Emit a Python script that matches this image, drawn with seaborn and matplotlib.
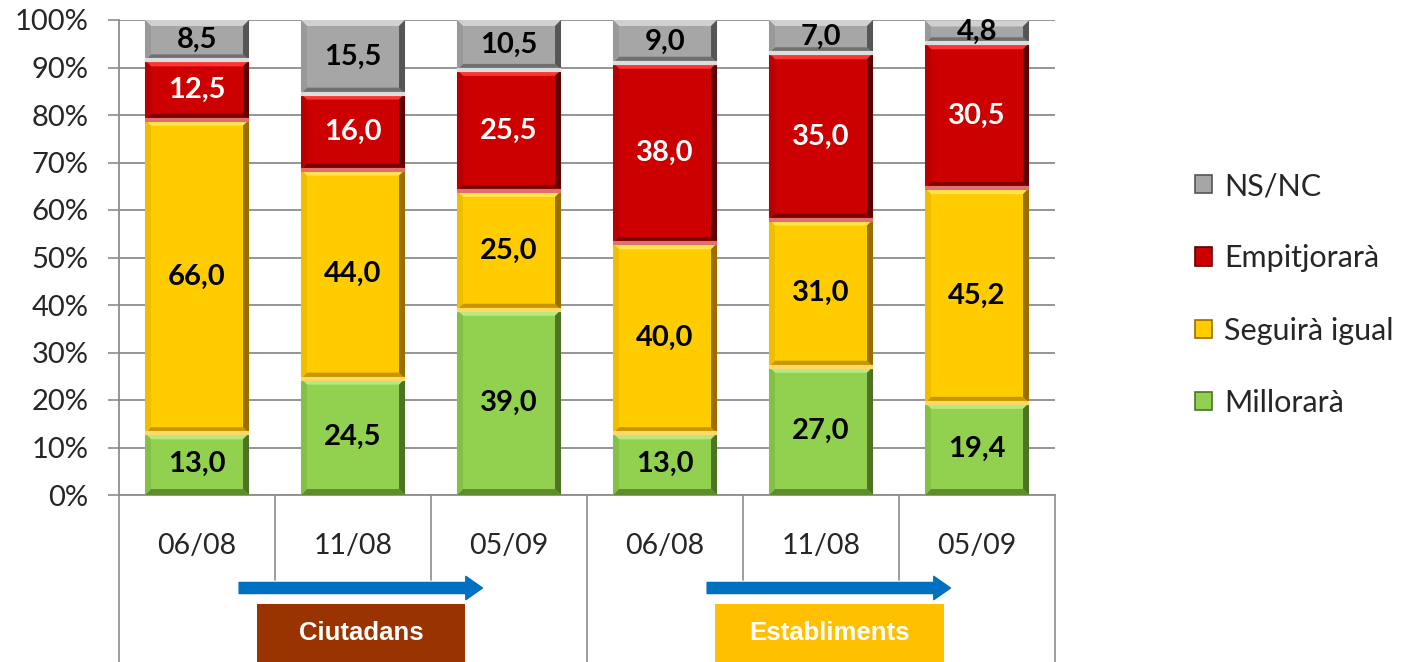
import numpy as np
import pandas as pd
import matplotlib
matplotlib.use("Agg")
import matplotlib.pyplot as plt
import seaborn as sns
from matplotlib.patches import Polygon, Rectangle, Patch
from matplotlib.transforms import blended_transform_factory

# ---------------- data ----------------
periods = ["06/08", "11/08", "05/09", "06/08", "11/08", "05/09"]
groups = ["Ciutadans", "Ciutadans", "Ciutadans", "Establiments", "Establiments", "Establiments"]
millorara = [13.0, 24.5, 39.0, 13.0, 27.0, 19.4]
seguira = [66.0, 44.0, 25.0, 40.0, 31.0, 45.2]
empitjorara = [12.5, 16.0, 25.5, 38.0, 35.0, 30.5]
nsnc = [8.5, 15.5, 10.5, 9.0, 7.0, 4.8]
series_names = ["Millorarà", "Seguirà igual", "Empitjorarà", "NS/NC"]
group_names = ["Ciutadans", "Establiments"]
yticks = [0, 10, 20, 30, 40, 50, 60, 70, 80, 90, 100]

# ---------------- styles ----------------
palette = {
    "Millorarà":     dict(base="#92D050", top="#B8E883", bot="#5E8C2E", left="#84C046", right="#4A7424", sep="#C9EE9E", txt="black"),
    "Seguirà igual": dict(base="#FFCC00", top="#FFE44D", bot="#C89400", left="#F0BE00", right="#9A6E00", sep="#FFD966", txt="black"),
    "Empitjorarà":   dict(base="#CC0000", top="#FF3333", bot="#7A0000", left="#B80000", right="#5C0000", sep="#E07070", txt="white"),
    "NS/NC":         dict(base="#A6A6A6", top="#D0D0D0", bot="#707070", left="#999999", right="#555555", sep="#DCDCDC", txt="black"),
}
group_box_colors = {"Ciutadans": "#993300", "Establiments": "#FFC000"}

slots = [f"{g} {p}" for g, p in zip(groups, periods)]
df = pd.DataFrame({"slot": slots, "group": groups, "period": periods,
                   "Millorarà": millorara, "Seguirà igual": seguira,
                   "Empitjorarà": empitjorara, "NS/NC": nsnc})
for i, s in enumerate(series_names):
    df["cum_" + s] = df[series_names[: i + 1]].sum(axis=1)

sns.set_theme(style="white")
plt.rcParams["font.family"] = ["Lato", "DejaVu Sans"]

fig = plt.figure(figsize=(14.01, 6.62), dpi=100)
ax = fig.add_axes([119 / 1401, 1 - 495 / 662, (1055 - 119) / 1401, 475 / 662])

bar_w = 0.667
# draw cumulative bars, tallest first (classic stacked technique)
for s in reversed(series_names):
    sns.barplot(data=df, x="slot", y="cum_" + s, order=slots, color=palette[s]["base"],
                width=bar_w, saturation=1, linewidth=0, edgecolor="none",
                ax=ax, zorder=3, errorbar=None)

ax.set_xlim(-0.5, len(slots) - 0.5)
ax.set_ylim(0, 100)

# bevel overlays and labels derived from data
bx, by = 6 / 156, 6 / 4.75
for i in range(len(slots)):
    x0, x1 = i - bar_w / 2, i + bar_w / 2
    lower = 0.0
    for k, s in enumerate(series_names):
        val = df[s].iloc[i]
        y0, y1 = lower, lower + val
        c = palette[s]
        b_y = min(by, val / 3)
        polys = [
            ([(x0, y1), (x1, y1), (x1 - bx, y1 - b_y), (x0 + bx, y1 - b_y)], c["top"]),
            ([(x0, y0), (x1, y0), (x1 - bx, y0 + b_y), (x0 + bx, y0 + b_y)], c["bot"]),
            ([(x0, y0), (x0 + bx, y0 + b_y), (x0 + bx, y1 - b_y), (x0, y1)], c["left"]),
            ([(x1, y0), (x1 - bx, y0 + b_y), (x1 - bx, y1 - b_y), (x1, y1)], c["right"]),
        ]
        for pts, col in polys:
            ax.add_patch(Polygon(pts, closed=True, facecolor=col, edgecolor="none", zorder=4))
        if k > 0:
            ax.plot([x0, x1], [y0, y0], color=c["sep"], lw=3, zorder=5, solid_capstyle="butt")
        ax.text(i, (y0 + y1) / 2, f"{val:.1f}".replace(".", ","), ha="center", va="center",
                fontsize=21, fontweight="bold", color=c["txt"], zorder=6)
        lower = y1

# axes styling
ax.set_yticks(yticks)
ax.set_yticklabels([f"{v}%" for v in yticks], fontsize=21)
ax.yaxis.grid(True, color="#8C8C8C", lw=1.3, zorder=0)
ax.xaxis.grid(False)
ax.set_axisbelow(True)
ax.set_xticks(range(len(slots)))
ax.set_xticklabels(periods, fontsize=20.5)
ax.set_xlabel("")
ax.set_ylabel("")
ax.tick_params(axis="y", which="both", left=True, length=8, width=1.2, color="#8C8C8C", pad=14)
ax.tick_params(axis="x", length=0, pad=27)
for side in ["top", "right"]:
    ax.spines[side].set_visible(False)
for side in ["left", "bottom"]:
    ax.spines[side].set_color("#8C8C8C")
    ax.spines[side].set_linewidth(1.3)

trans = blended_transform_factory(ax.transData, ax.transAxes)
# category table separators
for j in range(len(slots) + 1):
    xs = j - 0.5
    long_line = (j % 3 == 0)
    ybot = -(662 - 495) / 475 if long_line else -0.179
    ax.plot([xs, xs], [0, ybot], transform=trans, color="#8C8C8C", lw=1.2, clip_on=False, zorder=1)

# arrows and group boxes
arrow_y = -(588 - 495) / 475
box_y0 = -(662 - 495) / 475
box_h = (662 - 604) / 475
box_specs = {"Ciutadans": (0.385, 1.718), "Establiments": (3.32, 4.79)}
for gi, g in enumerate(group_names):
    center = gi * 3 + 1
    ax.annotate("", xy=(center + 0.83, arrow_y), xytext=(center - 0.73, arrow_y),
                xycoords=trans, textcoords=trans,
                arrowprops=dict(arrowstyle="simple,head_length=0.75,head_width=1.05,tail_width=0.5",
                                color="#0070C0", shrinkA=0, shrinkB=0, mutation_scale=16),
                annotation_clip=False, zorder=2)
    bx0, bx1 = box_specs[g]
    ax.add_patch(Rectangle((bx0, box_y0), bx1 - bx0, box_h, transform=trans,
                           facecolor=group_box_colors[g], edgecolor="none", clip_on=False, zorder=2))
    ax.text((bx0 + bx1) / 2, box_y0 + box_h / 2, g, transform=trans, ha="center", va="center",
            color="white", fontsize=18.5, fontweight="bold", family=["Liberation Sans", "DejaVu Sans"],
            clip_on=False, zorder=3)

# legend
handles = [Patch(facecolor=palette[s]["base"], edgecolor=palette[s]["right"], linewidth=1.2)
           for s in reversed(series_names)]
fig.legend(handles, list(reversed(series_names)), loc="upper left",
           bbox_to_anchor=(1195 / 1401, 1 - 172 / 662), frameon=False, fontsize=22,
           handlelength=0.55, handleheight=0.55, handletextpad=0.4, labelspacing=1.45,
           borderaxespad=0, borderpad=0)

fig.savefig("out.png", dpi=100)
